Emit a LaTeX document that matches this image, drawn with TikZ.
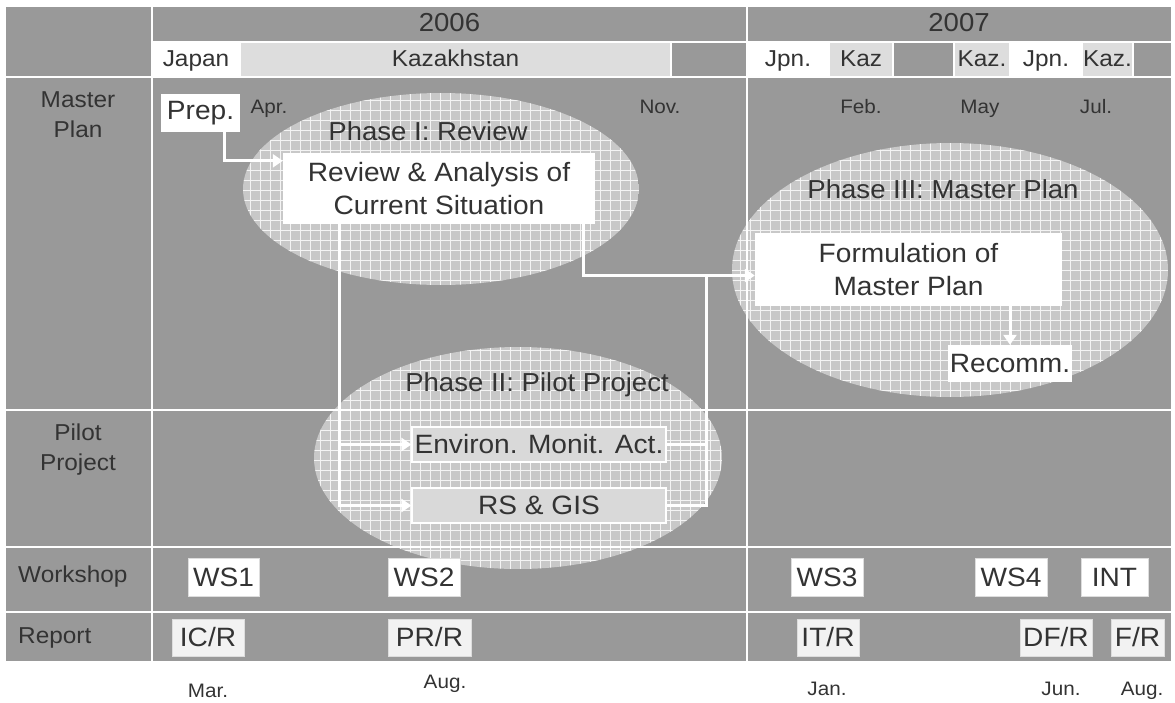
\documentclass[tikz,border=0pt]{standalone}
\usepackage{fontspec}
\setmainfont{Liberation Sans}[FakeStretch=1.06]
\usepackage{xcolor}
\usetikzlibrary{arrows.meta}
\usetikzlibrary{calc}

\definecolor{tablegray}{RGB}{153,153,153}
\definecolor{kazgray}{RGB}{221,221,221}
\definecolor{actgray}{RGB}{217,217,217}
\definecolor{repgray}{RGB}{242,242,242}
\definecolor{phasegray}{RGB}{200,200,200}
\definecolor{inkgray}{RGB}{51,51,51}

\tikzset{
  gridline/.style={draw=white, line width=1.8pt},
  cell/.style={draw=white, line width=1.2pt, minimum height=35pt, inner sep=0pt, text height=17pt, text depth=4pt, text=inkgray, font=\fontsize{23}{27}\selectfont},
  bigbox/.style={fill=white, inner sep=0pt, text=inkgray, align=center, font=\fontsize{26.5}{33}\selectfont},
  actbox/.style={bigbox, fill=actgray, draw=white, line width=1.2pt},
  wsbox/.style={bigbox, draw=kazgray, line width=0.8pt, minimum height=38pt},
  repbox/.style={bigbox, fill=repgray, draw=kazgray, line width=0.8pt, minimum height=37pt},
  rowlabel/.style={text=inkgray, inner sep=0pt, align=center, font=\fontsize{23}{30}\selectfont},
  month/.style={text=inkgray, inner sep=0pt, anchor=base, font=\fontsize{19.5}{22}\selectfont},
  phaselabel/.style={text=inkgray, inner sep=0pt, anchor=base, font=\fontsize{26}{30}\selectfont},
  flow/.style={draw=white, line width=3pt, -{Triangle[length=10pt,width=13pt]}},
  link/.style={draw=white, line width=3pt},
}

\begin{document}
\begin{tikzpicture}[x=1pt, y=-1pt]
        \newcommand{\figplanleft}{6}
        \newcommand{\figplanright}{1171}
        \newcommand{\figplantop}{7}
        \newcommand{\figplanbottom}{661}
        \newcommand{\figplanlabcol}{152}
        \newcommand{\figplanyear}{747}
        \newcommand{\figplancountry}{59.5}
        \useasboundingbox (0,0) rectangle (1175,702);
        \fill[tablegray] (\figplanleft,\figplantop) rectangle (\figplanright,\figplanbottom);
        % header: years and countries
        \node[cell, draw=none, font=\fontsize{26}{30}\selectfont] (yrsix) at (449.5,24.5) {2006};
        \node[cell, draw=none, font=\fontsize{26}{30}\selectfont] (yrseven) at (959,24.5) {2007};
        \node[cell, fill=white, minimum width=88pt] (japan) at (196,\figplancountry) {Japan};
        \node[cell, fill=kazgray, minimum width=431pt] (kazakh) at (455.5,\figplancountry) {Kazakhstan};
        \draw[white, line width=1.2pt] (671,42) rectangle (\figplanyear,77);
        \node[cell, fill=white, minimum width=82pt] (jpna) at (788,\figplancountry) {Jpn.};
        \node[cell, fill=kazgray, minimum width=64pt] (kaza) at (861,\figplancountry) {Kaz};
        \draw[white, line width=1.2pt] (893,42) rectangle (954,77);
        \node[cell, fill=kazgray, minimum width=56pt] (kazb) at (982,\figplancountry) {Kaz.};
        \node[cell, fill=white, minimum width=72pt] (jpnb) at (1046,\figplancountry) {Jpn.};
        \node[cell, fill=kazgray, minimum width=51pt] (kazc) at (1107.5,\figplancountry) {Kaz.};
        % phases
        \foreach \cx/\cy/\rx/\ry in {441/189/198/96, 518/458/204/111, 950/270/218/127} {
            \begin{scope}
                \clip (\cx,\cy) ellipse (\rx pt and \ry pt);
                \fill[phasegray] (\cx-\rx,\cy-\ry) rectangle (\cx+\rx,\cy+\ry);
                \draw[white, opacity=0.8, line width=0.6pt, step=10pt] (\cx-\rx,\cy-\ry) grid (\cx+\rx,\cy+\ry);
            \end{scope}
        }
        % table lines
        \draw[gridline] (\figplanlabcol,42) -- (\figplanright,42);
        \foreach \y in {77,410,547,612}
            \draw[gridline] (\figplanleft,\y) -- (\figplanright,\y);
        \draw[gridline] (\figplanlabcol,\figplantop) -- (\figplanlabcol,\figplanbottom);
        \draw[gridline] (\figplanyear,\figplantop) -- (\figplanyear,\figplanbottom);
        % row labels
        \node[rowlabel, anchor=north] (masterlbl) at (78,91) {Master\\Plan};
        \node[rowlabel, anchor=north] (pilotlbl) at (78,424) {Pilot\\Project};
        \node[rowlabel, anchor=base west] (wslbl) at (18,582) {Workshop};
        \node[rowlabel, anchor=base west] (replbl) at (18,643) {Report};
        \node[phaselabel] (phaseone) at (428,140) {Phase I: Review};
        \node[phaselabel] (phasetwo) at (537,391) {Phase II: Pilot Project};
        \node[phaselabel] (phasethree) at (943,198) {Phase III: Master Plan};
        % activities
        \node[bigbox, minimum width=79pt, minimum height=38pt] (prep) at (200.5,113) {Prep.};
        \node[bigbox, minimum width=312pt, minimum height=71pt] (review) at (439,188.5) {Review \& Analysis of\\Current Situation};
        \node[bigbox, minimum width=307pt, minimum height=73pt] (form) at (908.5,269.5) {Formulation of\\Master Plan};
        \node[bigbox, minimum width=124pt, minimum height=37pt] (recomm) at (1010,363.5) {Recomm.};
        \node[actbox, minimum width=254pt, minimum height=35pt] (environ) at (539,444.5) {Environ. Monit. Act.};
        \node[actbox, minimum width=254pt, minimum height=35pt] (rsgis) at (539,505.5) {RS \& GIS};
        \coordinate (join) at (706,276);
        \draw[flow] ([xshift=24pt]prep.south) |- ([yshift=-8pt]review.north west);
        \draw[flow] ([xshift=57pt]review.south west) |- (environ.west);
        \draw[flow] ([xshift=57pt]review.south west) |- (rsgis.west);
        \draw[flow] ([xshift=-12pt]review.south east) |- ([yshift=-6pt]form.west);
        \draw[link] (environ.east) -| (join);
        \draw[link] (rsgis.east) -| (join);
        \draw[flow] (form.south -| recomm.north) -- (recomm.north);
        % workshops and reports
        \node[wsbox, minimum width=71pt] (wsone) at (223.5,577) {WS1};
        \node[wsbox, minimum width=72pt] (wstwo) at (424,577) {WS2};
        \node[wsbox, minimum width=72pt] (wsthree) at (827,577) {WS3};
        \node[wsbox, minimum width=72pt] (wsfour) at (1011,577) {WS4};
        \node[wsbox, minimum width=67pt] (int) at (1114.5,577) {INT};
        \node[repbox, minimum width=72pt] (icr) at (208,637.5) {IC/R};
        \node[repbox, minimum width=83pt] (prr) at (429.5,637.5) {PR/R};
        \node[repbox, minimum width=62pt] (itr) at (828,637.5) {IT/R};
        \node[repbox, minimum width=72pt] (dfr) at (1056,637.5) {DF/R};
        \node[repbox, minimum width=53pt] (fr) at (1137.5,637.5) {F/R};
        % months
        \foreach \mx/\mname in {269/Apr., 660/Nov., 861/Feb., 980/May, 1096/Jul.}
            \node[month] (top\mx) at (\mx,113) {\mname};
        \foreach \mx/\my/\mname in {208/697/Mar., 445/688/Aug., 827/695/Jan., 1061/695/Jun., 1142/695/Aug.}
            \node[month] (bot\mx) at (\mx,\my) {\mname};
    \end{tikzpicture}
\end{document}
